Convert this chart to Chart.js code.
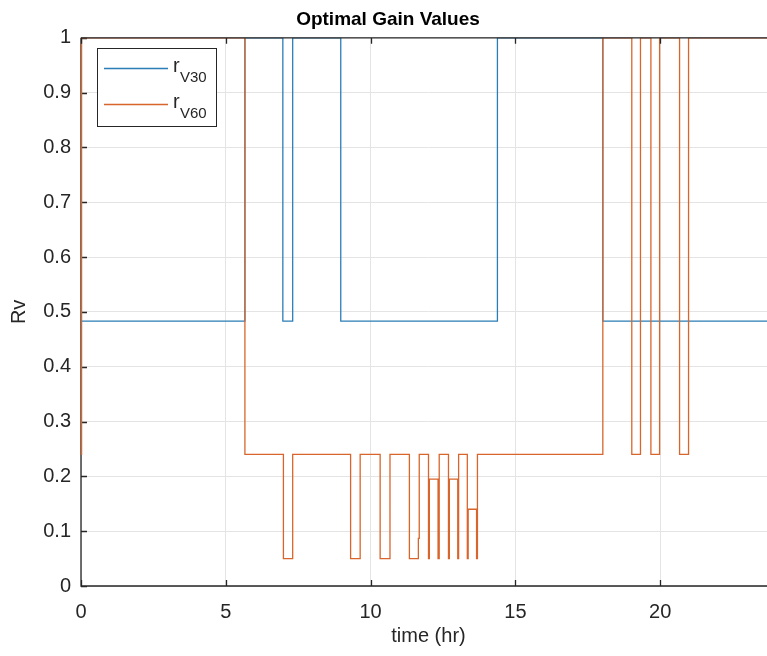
<!DOCTYPE html>
<html lang="en">
<head>
  <meta charset="UTF-8" />
  <title>Optimal Gain Values</title>
  <script src="https://cdn.jsdelivr.net/npm/chart.js"></script>
  <style>
    html, body { margin: 0; padding: 0; background: #fff; }
    body { width: 767px; height: 656px; overflow: hidden; }
    canvas { display: block; }
  </style>
</head>
<body>
  <canvas id="grafica" width="790" height="656"></canvas>

  <script>
    // r_V30 (blue): switch times (hr) and value held from that time on
    const rv30Times  = [0, 5.66, 6.97, 7.31, 8.97, 14.38, 18.02, 24];
    const rv30Values = [0.483, 1, 0.483, 1, 0.483, 1, 0.483, 0.483];

    // r_V60 (orange)
    const rv60Times  = [0, 0.02, 5.66, 6.99, 7.31, 9.31, 9.64, 10.33, 10.67,
                        11.34, 11.65, 11.68, 12.00, 12.03, 12.33, 12.37,
                        12.69, 12.72, 13.01, 13.04, 13.34, 13.37, 13.66, 13.69,
                        18.02, 19.02, 19.32, 19.68, 19.98, 20.67, 20.98, 24];
    const rv60Values = [0.24, 1, 0.24, 0.05, 0.24, 0.05, 0.24, 0.05, 0.24,
                        0.05, 0.087, 0.24, 0.05, 0.195, 0.05, 0.24,
                        0.05, 0.195, 0.05, 0.24, 0.05, 0.14, 0.05, 0.24,
                        1, 0.24, 1, 0.24, 1, 0.24, 1, 1];

    const xTicks = [0, 5, 10, 15, 20];
    const yTicks = [0, 0.1, 0.2, 0.3, 0.4, 0.5, 0.6, 0.7, 0.8, 0.9, 1];
    const yTickLabels = ['0', '0.1', '0.2', '0.3', '0.4', '0.5', '0.6', '0.7', '0.8', '0.9', '1'];

    const FONT = '"Liberation Sans", Arial, Helvetica, sans-serif';
    const AXIS = '#262626';
    const BLUE = '#2b7db5';
    const ORANGE = '#d8652b';

    const toPoints = (ts, vs) => ts.map((t, i) => ({ x: t, y: vs[i] }));

    // MATLAB-like box with inward ticks: left/bottom under the lines, top/right over them
    const boxPlugin = {
      id: 'box',
      beforeDatasetsDraw(chart) {
        const { ctx, chartArea: a, scales: { x, y } } = chart;
        ctx.save();
        ctx.strokeStyle = AXIS;
        ctx.lineWidth = 1.3;
        ctx.beginPath();
        ctx.moveTo(a.left, a.top); ctx.lineTo(a.left, a.bottom); ctx.lineTo(a.right, a.bottom);
        xTicks.forEach(v => {
          const px = Math.round(x.getPixelForValue(v)) + 0.5;
          ctx.moveTo(px, a.bottom); ctx.lineTo(px, a.bottom - 6);
        });
        yTicks.forEach(v => {
          const py = Math.round(y.getPixelForValue(v)) + 0.5;
          ctx.moveTo(a.left, py); ctx.lineTo(a.left + 6, py);
        });
        ctx.stroke();
        ctx.restore();
      },
      afterDatasetsDraw(chart) {
        const { ctx, chartArea: a, scales: { x, y } } = chart;
        ctx.save();
        ctx.strokeStyle = AXIS;
        ctx.lineWidth = 1.3;
        ctx.beginPath();
        ctx.moveTo(a.left, a.top); ctx.lineTo(a.right, a.top); ctx.lineTo(a.right, a.bottom);
        xTicks.forEach(v => {
          const px = Math.round(x.getPixelForValue(v)) + 0.5;
          ctx.moveTo(px, a.top); ctx.lineTo(px, a.top + 6);
        });
        yTicks.forEach(v => {
          const py = Math.round(y.getPixelForValue(v)) + 0.5;
          ctx.moveTo(a.right, py); ctx.lineTo(a.right - 6, py);
        });
        ctx.stroke();
        ctx.restore();
      }
    };

    // legend with subscripted labels
    const legendPlugin = {
      id: 'subLegend',
      afterDraw(chart) {
        const { ctx } = chart;
        const bx = 97, by = 48, bw = 119, bh = 78;
        ctx.save();
        ctx.fillStyle = '#fff';
        ctx.fillRect(bx, by, bw, bh);
        ctx.strokeStyle = AXIS;
        ctx.lineWidth = 1;
        ctx.strokeRect(bx + 0.5, by + 0.5, bw, bh);
        chart.data.datasets.forEach((ds, i) => {
          const ly = 68 + i * 36;
          ctx.strokeStyle = ds.borderColor;
          ctx.lineWidth = 1.3;
          ctx.beginPath();
          ctx.moveTo(104, ly + 0.5); ctx.lineTo(168, ly + 0.5);
          ctx.stroke();
          ctx.fillStyle = AXIS;
          ctx.textBaseline = 'alphabetic';
          ctx.font = '20px ' + FONT;
          ctx.fillText(ds.labelMain, 173, ly + 4);
          ctx.font = '15px ' + FONT;
          ctx.fillText(ds.labelSub, 180, ly + 14);
        });
        ctx.restore();
      }
    };

    const ctx = document.getElementById('grafica').getContext('2d');
    new Chart(ctx, {
      type: 'line',
      data: {
        datasets: [
          {
            label: 'rV30', labelMain: 'r', labelSub: 'V30',
            data: toPoints(rv30Times, rv30Values),
            borderColor: BLUE, borderWidth: 1.3,
            stepped: 'before', order: 1,
            clip: { left: 2, top: 0, right: 0, bottom: 0 }
          },
          {
            label: 'rV60', labelMain: 'r', labelSub: 'V60',
            data: toPoints(rv60Times, rv60Values),
            borderColor: ORANGE, borderWidth: 1.3,
            stepped: 'before', order: 0,
            clip: { left: 2, top: 0, right: 0, bottom: 0 }
          }
        ]
      },
      options: {
        responsive: false,
        animation: false,
        layout: { padding: { left: 0, right: 14, top: 0, bottom: 0 } },
        elements: { point: { radius: 0 }, line: { tension: 0 } },
        plugins: {
          legend: { display: false },
          tooltip: { enabled: false },
          title: {
            display: true,
            text: 'Optimal Gain Values',
            color: '#000',
            font: { family: FONT, size: 19, weight: 'bold', lineHeight: 1.2 },
            padding: { top: 8, bottom: 7 }
          }
        },
        scales: {
          x: {
            type: 'linear', min: 0, max: 24,
            afterBuildTicks: s => { s.ticks = xTicks.map(v => ({ value: v })); },
            afterFit: s => { s.height = 70; },
            border: { display: false },
            grid: { color: '#e4e4e4', drawTicks: false },
            ticks: { padding: 14, color: AXIS, maxRotation: 0, font: { family: FONT, size: 20 } },
            title: {
              display: true, text: 'time (hr)', color: AXIS,
              font: { family: FONT, size: 20, lineHeight: 1.2 },
              padding: { top: 0, bottom: 8 }
            }
          },
          y: {
            min: 0, max: 1,
            afterBuildTicks: s => { s.ticks = yTicks.map(v => ({ value: v })); },
            afterFit: s => { s.width = 81; },
            border: { display: false },
            grid: { color: '#e4e4e4', drawTicks: false },
            ticks: {
              padding: 10, color: AXIS, font: { family: FONT, size: 20 },
              callback: (v, i) => yTickLabels[i]
            },
            title: {
              display: true, text: 'Rv', color: AXIS,
              font: { family: FONT, size: 20, lineHeight: 1.2 },
              padding: { top: 7, bottom: 0 }
            }
          }
        }
      },
      plugins: [boxPlugin, legendPlugin]
    });
  </script>
</body>
</html>
